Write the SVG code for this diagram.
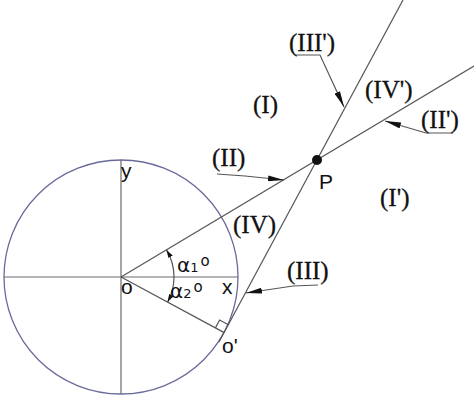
<svg xmlns="http://www.w3.org/2000/svg" width="474" height="403" viewBox="0 0 474 403">
<style>
.ln{stroke:#555;stroke-width:1.2;fill:none}
.ax{stroke:#6a6a6a;stroke-width:1.2;fill:none}
.sans{font-family:"Liberation Sans",Arial,sans-serif;fill:#111;font-size:21px}
.alp{font-family:"DejaVu Sans","Liberation Sans",sans-serif;fill:#111;font-size:20px}
.rom{font-family:"Liberation Serif","Times New Roman",serif;font-size:25px;fill:#111;stroke:#111;stroke-width:0.3}
.ah{fill:#111;stroke:none}
</style>
<defs>
<marker id="big" markerWidth="16" markerHeight="6" refX="16" refY="3" orient="auto" markerUnits="userSpaceOnUse">
<path d="M0,0 L16,3 L0,6 Z" class="ah"/>
</marker>
<marker id="small" markerWidth="8" markerHeight="5" refX="8" refY="2.5" orient="auto" markerUnits="userSpaceOnUse">
<path d="M0,0 L8,2.5 L0,5 Z" class="ah"/>
</marker>
</defs>
<rect width="474" height="403" fill="#fff"/>
<g id="circle">
<circle cx="121" cy="277" r="117" fill="none" stroke="#6a6a9c" stroke-width="1.3"/>
<line class="ax" x1="121" y1="160" x2="121" y2="394"/>
<line class="ax" x1="4" y1="277" x2="238" y2="277"/>
<text class="sans" x="121" y="178">y</text>
<text class="sans" x="222" y="294">x</text>
<text class="sans" x="121" y="294">o</text>
</g>
<g id="connectors">
<line class="ln" x1="121" y1="277" x2="474" y2="66"/>
<line class="ln" x1="403" y1="0" x2="219" y2="342"/>
<line class="ln" x1="121" y1="277" x2="224.2" y2="332.6"/>
<polyline class="ln" points="215.4,327.9 219.6,320 228.4,324.7"/>
<path class="ln" d="M174,277 A53,53 0 0 0 166.5,249.9" marker-end="url(#small)"/>
<path class="ln" d="M174,277 A53,53 0 0 1 167.6,302.1" marker-end="url(#small)"/>
<polyline class="ln" points="295,55 320,55 344,107" marker-end="url(#big)"/>
<polyline class="ln" points="453,133 426,133 385,121" marker-end="url(#big)"/>
<polyline class="ln" points="217,174 245,176 284,180" marker-end="url(#big)"/>
<polyline class="ln" points="318,285 293,286 246,293" marker-end="url(#big)"/>
</g>
<g id="P">
<circle cx="317" cy="160" r="5" fill="#111"/>
<text class="sans" x="319" y="189">P</text>
</g>
<g id="Oprime">
<text class="sans" x="222" y="353">o'</text>
</g>
<g id="alpha1">
<text class="alp" x="177" y="272">α<tspan font-size="13">1</tspan><tspan font-size="15" dx="2" dy="-6">o</tspan></text>
</g>
<g id="alpha2">
<text class="alp" x="170" y="298">α<tspan font-size="13">2</tspan><tspan font-size="15" dx="2" dy="-6">o</tspan></text>
</g>
<g id="regions">
<text class="rom" x="253" y="113">(I)</text>
<text class="rom" x="380" y="206">(I')</text>
<text class="rom" x="212" y="166">(II)</text>
<text class="rom" x="421" y="128">(II')</text>
<text class="rom" x="287" y="279">(III)</text>
<text class="rom" x="289" y="51">(III')</text>
<text class="rom" x="233" y="233">(IV)</text>
<text class="rom" x="365" y="98">(IV')</text>
</g>
</svg>
